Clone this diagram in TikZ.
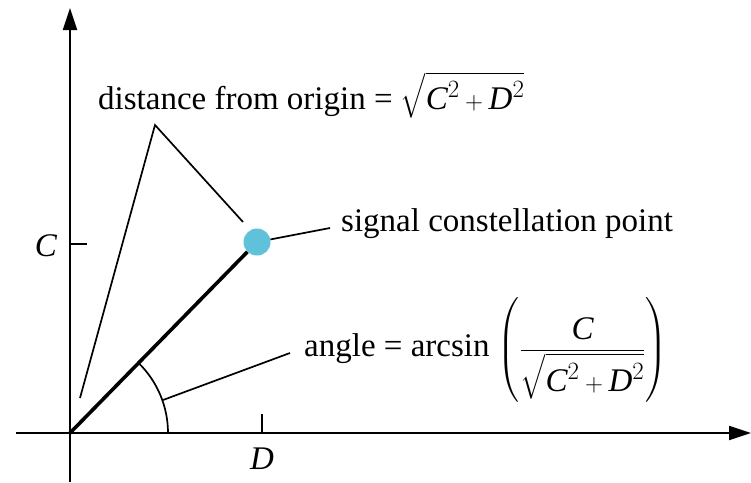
\documentclass[tikz,border=0pt]{standalone}
\usepackage{amsmath}
\usepackage{fontspec}
\setmainfont{Liberation Serif}
\usetikzlibrary{arrows.meta,calc}
\definecolor{dotblue}{RGB}{95,194,218}
\newcommand\mC{\text{\itshape C}}
\newcommand\mD{\text{\itshape D}}
\begin{document}
\begin{tikzpicture}[x=1pt,y=-1pt,
  font=\fontsize{33}{39}\selectfont,
  lead/.style={line width=1.7pt},
  ax/.style={line width=1.8pt,-{Triangle[length=22pt,width=14pt]}},
  lbl/.style={anchor=west,inner sep=0pt}]
\useasboundingbox (0,0) rectangle (751,482);
% axes
\coordinate (O) at (70,433);
\coordinate (ytop) at (70,8);
\coordinate (ybot) at (70,482);
\coordinate (xl) at (16,433);
\coordinate (xr) at (751,433);
\draw[ax] (ybot) -- (ytop);
\draw[ax] (xl) -- (xr);
% ticks
\coordinate (C0) at (70,244);
\coordinate (Ct) at (87,244);
\draw[lead] (C0) -- (Ct);
\node[anchor=east,inner sep=0pt] (Clab) at (57,246) {\itshape C};
\coordinate (D0) at (262,433);
\coordinate (Dt) at (262,414);
\draw[lead] (D0) -- (Dt);
\node[inner sep=0pt] (Dlab) at (262,459) {\itshape D};
% point and vector
\node[circle,fill=dotblue,minimum size=27pt,inner sep=0pt] (pt) at (257,242) {};
\draw[line width=3.6pt] (O) -- (pt);
% angle arc
\coordinate (arcs) at (168,433);
\draw[lead] (arcs) arc[start angle=0,end angle=-45.6,radius=98];
% labels
\node[lbl] (dist) at (98,95) {distance from origin = $\sqrt{\mC^{2}+\mD^{2}}$};
\node[lbl] (sig) at (341,224) {signal constellation point};
\node[lbl] (ang) at (304,350) {angle = arcsin $\left(\dfrac{\mC}{\sqrt{\mC^{2}+\mD^{2}}}\right)$};
% leaders
\coordinate (apex) at (155,125);
\coordinate (dl) at (80,398);
\coordinate (dr) at (243,222);
\draw[lead,line join=miter] (dl) -- (apex) -- (dr);
\coordinate (sl) at (330,228);
\draw[lead] (pt) -- (sl);
\coordinate (a1) at (163,400);
\coordinate (a2) at (290,353);
\draw[lead] (a1) -- (a2);
\end{tikzpicture}
\end{document}
